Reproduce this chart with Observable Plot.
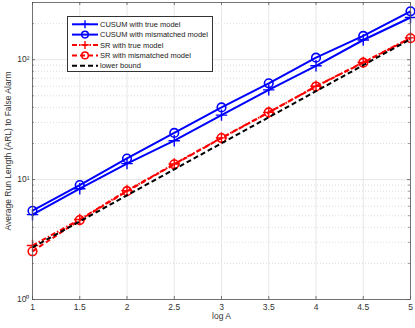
<!DOCTYPE html>
<html>
<head>
<meta charset="utf-8">
<script src="https://cdn.jsdelivr.net/npm/d3@7"></script>
<script src="https://cdn.jsdelivr.net/npm/@observablehq/plot@0.6"></script>
<style>
  html, body { margin: 0; padding: 0; background: #fff; }
  #wrap { position: relative; width: 415px; height: 328px; font-family: "Liberation Sans", Arial, sans-serif; }
  #legend { position: absolute; left: 67px; top: 16px; width: 146px; height: 56px; background: #fff; border: 0.8px solid #333; box-sizing: border-box; overflow: hidden; }
</style>
</head>
<body>
<div id="wrap"><div id="chart"></div><div id="legend"></div></div>
<script>
// ---- data ----
const logA = [1, 1.5, 2, 2.5, 3, 3.5, 4, 4.5, 5];
const cusumTrue = [5.1, 8.4, 13.6, 21.1, 34.5, 56, 89, 146, 225];
const cusumMismatched = [5.5, 9.0, 15.0, 24.5, 40, 63.5, 104, 158, 253];
const srTrue = [2.82, 4.65, 8.1, 13.5, 22.3, 36.4, 60, 95, 152];
const srMismatched = [2.52, 4.6, 8.0, 13.4, 22.2, 36.3, 59.8, 94.5, 151];
const lowerBound = [2.72, 4.48, 7.39, 12.18, 20.09, 33.12, 54.6, 90.02, 148.4];

const seriesNames = ["CUSUM with true model", "CUSUM with mismatched model", "SR with true model", "SR with mismatched model", "lower bound"];
const xTicks = [1, 1.5, 2, 2.5, 3, 3.5, 4, 4.5, 5];
const xTickLabels = ["1", "1.5", "2", "2.5", "3", "3.5", "4", "4.5", "5"];
const yTicks = [1, 10, 100];
const yTickLabels = ["10\u2070", "10\u00B9", "10\u00B2"];
const yMinor = [2, 3, 4, 5, 6, 7, 8, 9, 20, 30, 40, 50, 60, 70, 80, 90, 200, 300];
const xLabel = "log A";
const yLabel = "Average Run Length (ARL) to False Alarm";

// ---- styles per series ----
const styles = [
  {stroke: "#0000ff", dash: null, marker: "plus"},
  {stroke: "#0000ff", dash: null, marker: "circle"},
  {stroke: "#ff0000", dash: "5,2,1.5,2", marker: "plus"},
  {stroke: "#ff0000", dash: "5,3", marker: "circle"},
  {stroke: "#000000", dash: "5,3", marker: null}
];
const allValues = [cusumTrue, cusumMismatched, srTrue, srMismatched, lowerBound];
const tables = allValues.map((vals, i) => logA.map((x, j) => ({x, y: vals[j], series: seriesNames[i]})));

const plusSymbol = {
  draw(ctx, size) {
    const r = Math.sqrt(size) * 0.75;
    ctx.moveTo(-r, 0); ctx.lineTo(r, 0);
    ctx.moveTo(0, -r); ctx.lineTo(0, r);
  }
};

const W = 415, H = 328, mL = 32, mR = 5, mT = 2, mB = 29;
const plotW = W - mL - mR, plotH = H - mT - mB;

const marks = [
  Plot.ruleY(yMinor, {y: d => d, stroke: "#cfcfcf", strokeDasharray: "1,2", strokeWidth: 0.7}),
  Plot.ruleY(yTicks, {y: d => d, stroke: "#e6e6e6", strokeWidth: 1}),
  Plot.ruleX(xTicks, {x: d => d, stroke: "#e6e6e6", strokeWidth: 1})
];
tables.forEach((t, i) => {
  const s = styles[i];
  marks.push(Plot.line(t, {x: "x", y: "y", stroke: s.stroke, strokeWidth: 2, strokeDasharray: s.dash, strokeLinecap: "butt"}));
  if (s.marker === "circle") marks.push(Plot.dot(t, {x: "x", y: "y", r: 4.3, stroke: s.stroke, strokeWidth: 1.6, fill: "none"}));
  if (s.marker === "plus") marks.push(Plot.dot(t, {x: "x", y: "y", symbol: plusSymbol, r: 4.3, stroke: s.stroke, strokeWidth: 1.4, fill: "none"}));
});
marks.push(
  Plot.frame({stroke: "#555", strokeWidth: 0.8}),
  // inward ticks
  Plot.tickX(xTicks, {x: d => d, insetTop: plotH - 3, stroke: "#555", strokeWidth: 0.8}),
  Plot.tickX(xTicks, {x: d => d, insetBottom: plotH - 3, stroke: "#555", strokeWidth: 0.8}),
  Plot.tickY(yTicks, {y: d => d, insetRight: plotW - 3, stroke: "#555", strokeWidth: 0.8}),
  Plot.tickY(yTicks, {y: d => d, insetLeft: plotW - 3, stroke: "#555", strokeWidth: 0.8}),
  Plot.tickY(yMinor, {y: d => d, insetRight: plotW - 2, stroke: "#555", strokeWidth: 0.6}),
  Plot.tickY(yMinor, {y: d => d, insetLeft: plotW - 2, stroke: "#555", strokeWidth: 0.6}),
  Plot.axisX({ticks: xTicks, tickFormat: d => xTickLabels[xTicks.indexOf(d)], tickSize: 0, tickPadding: 4,
    label: xLabel, labelAnchor: "center", labelArrow: "none", labelOffset: 19, fontSize: 8.5, fill: "#333"}),
  Plot.axisY({ticks: yTicks, tickFormat: d => yTickLabels[yTicks.indexOf(d)], tickSize: 0, tickPadding: 3,
    label: yLabel, labelAnchor: "center", labelArrow: "none", labelOffset: 28, fontSize: 8.5, fill: "#333"})
);

const chart = Plot.plot({
  width: W, height: H, marginLeft: mL, marginRight: mR, marginTop: mT, marginBottom: mB,
  style: {fontFamily: "'Liberation Sans', Arial, sans-serif", fontSize: "8.5px", color: "#333", background: "#fff"},
  x: {domain: [1, 5]},
  y: {type: "log", domain: [1, 300]},
  marks
});
document.getElementById("chart").appendChild(chart);

// ---- legend ----
const lg = d3.select("#legend").append("svg").attr("width", 146).attr("height", 56)
  .style("position", "absolute").style("left", "-0.8px").style("top", "-0.8px");
const rowY = [8.3, 18.6, 28.9, 39.4, 49.8];
seriesNames.forEach((name, i) => {
  const s = styles[i];
  const g = lg.append("g").attr("transform", `translate(0,${rowY[i]})`);
  g.append("line").attr("x1", 5).attr("x2", 31).attr("y1", 0).attr("y2", 0)
    .attr("stroke", s.stroke).attr("stroke-width", 2).attr("stroke-dasharray", s.dash);
  if (s.marker === "circle") g.append("circle").attr("cx", 18).attr("cy", 0).attr("r", 3.3).attr("fill", "none").attr("stroke", s.stroke).attr("stroke-width", 1.5);
  if (s.marker === "plus") g.append("path").attr("d", "M14,0H22M18,-4V4").attr("stroke", s.stroke).attr("stroke-width", 1.4);
  g.append("text").attr("x", 33).attr("y", 0).attr("dy", "0.35em").attr("font-size", 7.5)
    .attr("font-family", "'Liberation Sans', Arial, sans-serif").attr("fill", "#222").text(name);
});
</script>
</body>
</html>
